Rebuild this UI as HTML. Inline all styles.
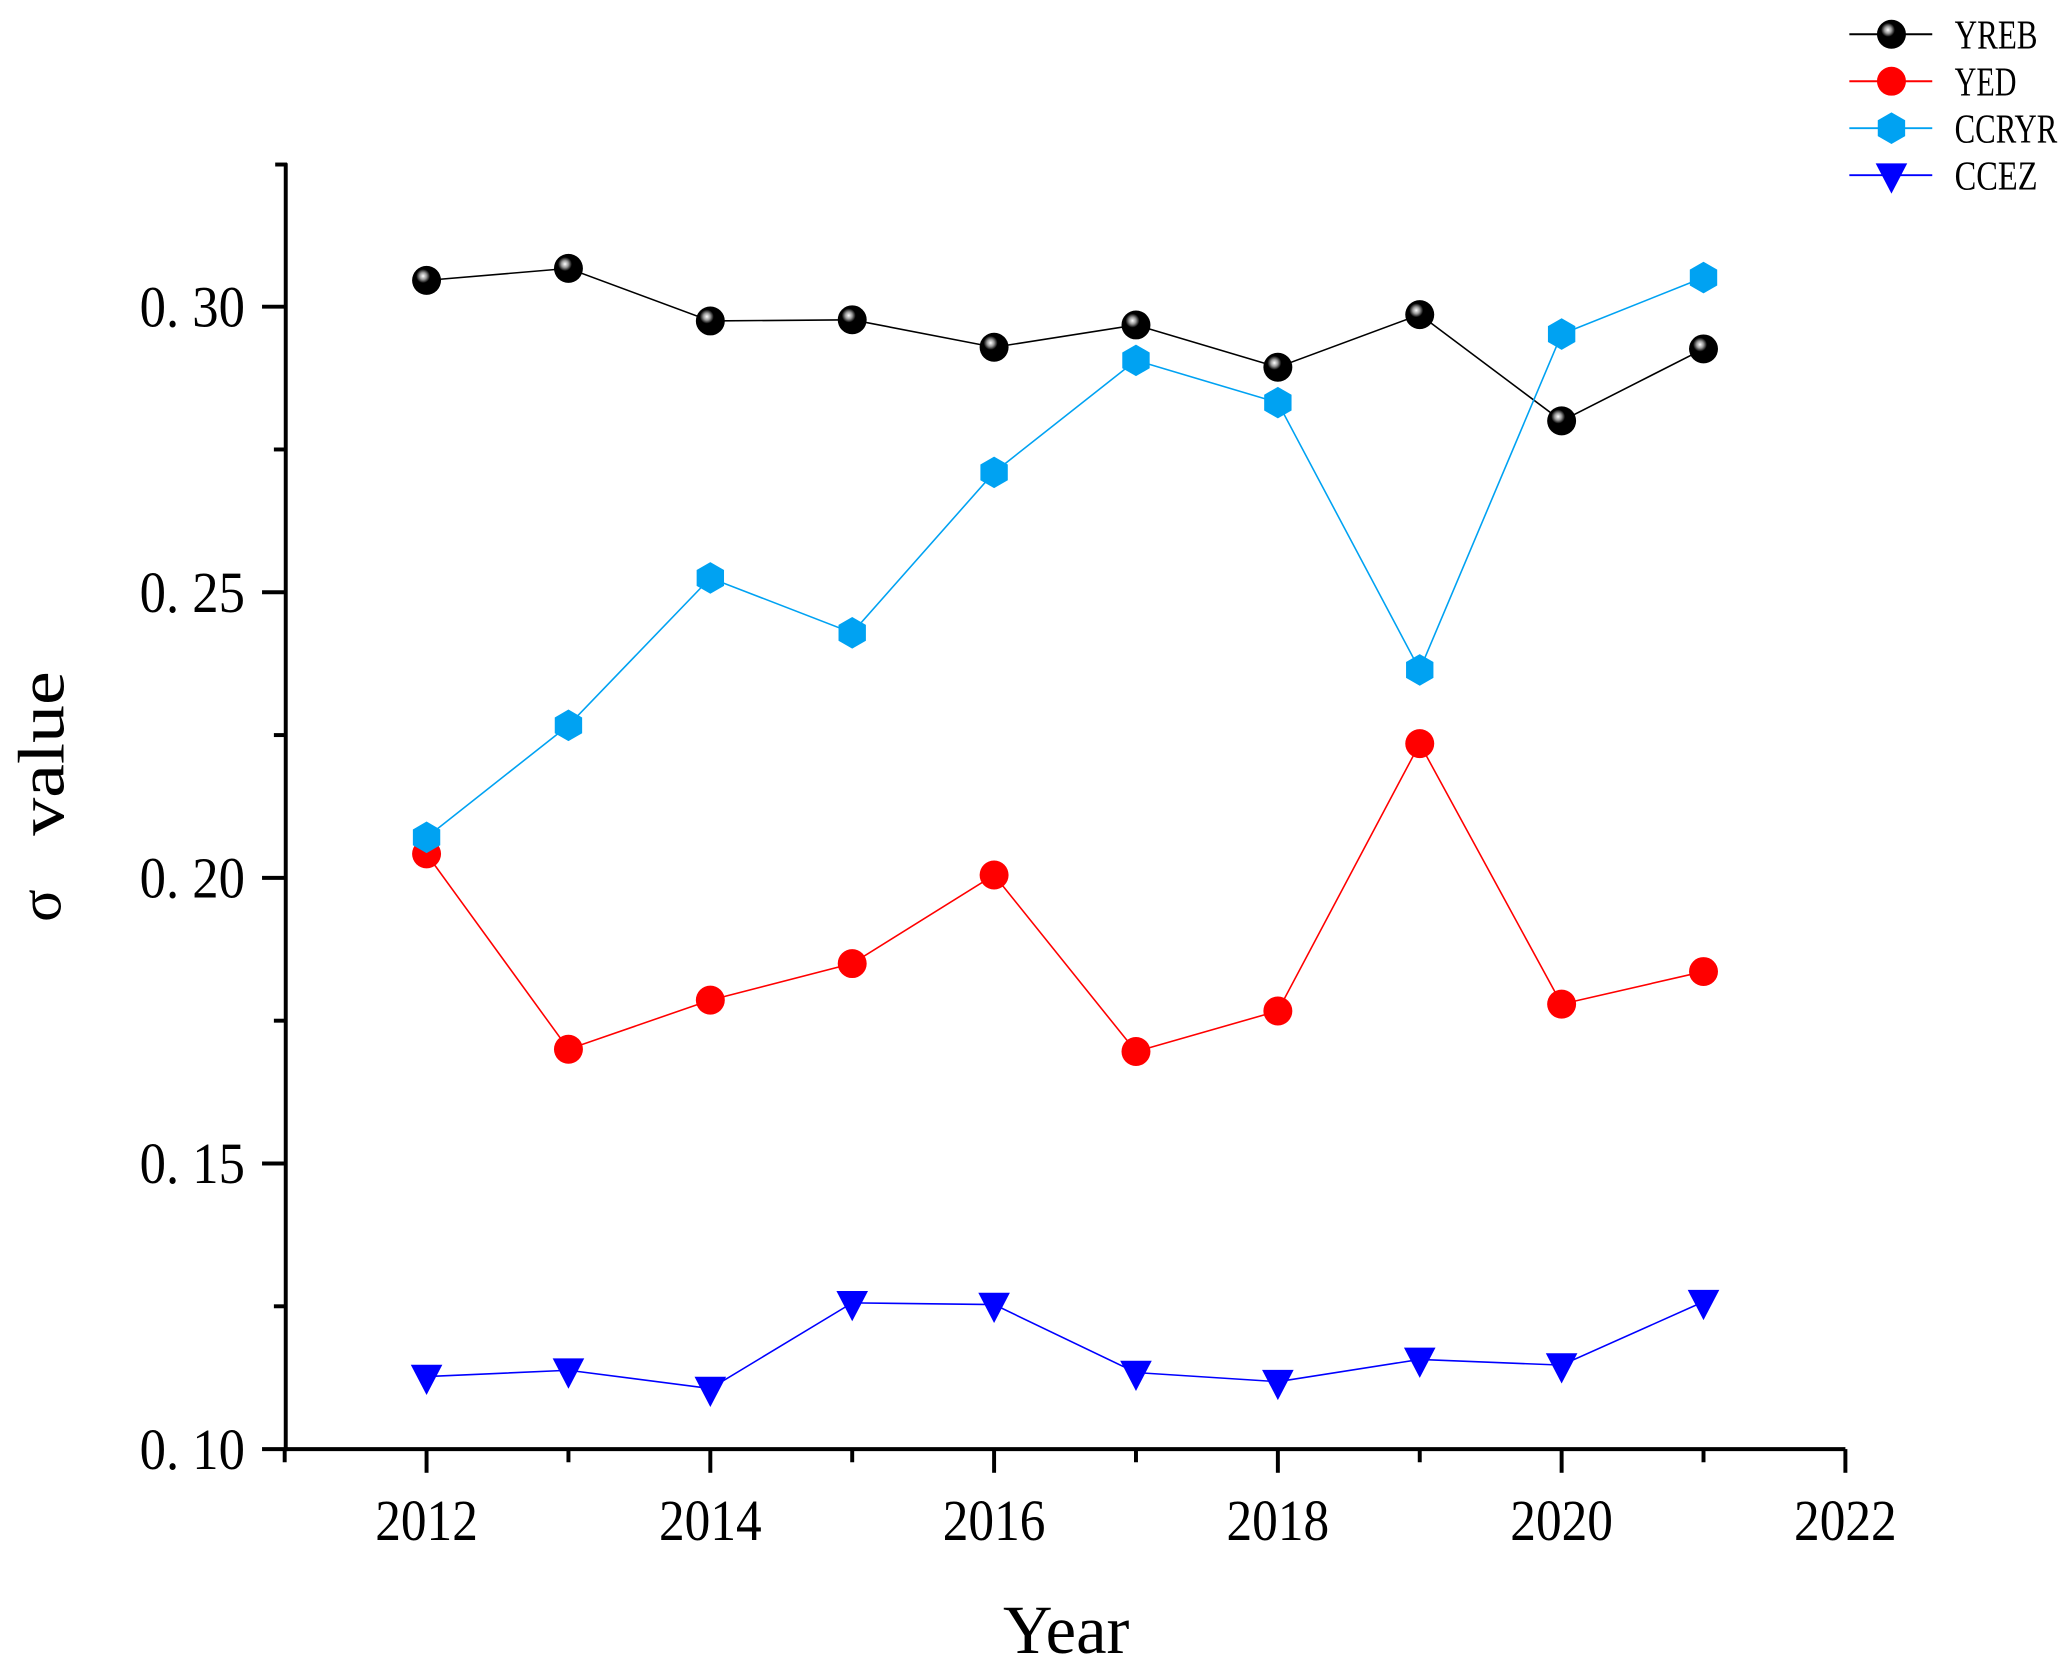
<!DOCTYPE html>
<html><head><meta charset="utf-8"><style>
html,body{margin:0;padding:0;background:#fff;}
svg{display:block;}
text{font-family:"Liberation Serif","Noto Serif CJK SC",serif;fill:#000;}
</style></head><body>
<svg id="chart" width="2064" height="1661" viewBox="0 0 1568 1262" xmlns="http://www.w3.org/2000/svg">
<defs>
<radialGradient id="ball" cx="0.38" cy="0.35" r="0.6">
<stop offset="0" stop-color="#fff"/><stop offset="0.2" stop-color="#999"/><stop offset="0.4" stop-color="#000"/><stop offset="1" stop-color="#000"/>
</radialGradient>
</defs>
<g id="axes"></g>
<g id="series"></g>
<g id="legend"></g>
</svg>
<script>
const years = [2012,2013,2014,2015,2016,2017,2018,2019,2020,2021];
const yreb = [0.3046,0.3067,0.2975,0.2977,0.2929,0.2968,0.2894,0.2986,0.2800,0.2926];
const yed = [0.2042,0.1700,0.1786,0.1850,0.2005,0.1696,0.1767,0.2235,0.1779,0.1836];
const ccryr = [0.2071,0.2267,0.2525,0.2429,0.2710,0.2906,0.2832,0.2364,0.2952,0.3051];
const ccez = [0.1127,0.1138,0.1106,0.1256,0.1253,0.1134,0.1118,0.1157,0.1147,0.1258];
const xTicks = [2012,2014,2016,2018,2020,2022];
const yTicks = [0.10,0.15,0.20,0.25,0.30];
const yTickLabels = ["0. 10","0. 15","0. 20","0. 25","0. 30"];

const NS = "http://www.w3.org/2000/svg";
const X0 = 217, XB = 1402, Y0 = 1101;
function xs(v){ return 324 + (v-2012)*(1078/10); }
function ys(v){ return Y0 - (v-0.10)*(868/0.20); }
function mk(tag, attrs, parent){ const e=document.createElementNS(NS,tag); for(const k in attrs) e.setAttribute(k,attrs[k]); parent.appendChild(e); return e; }

const axes = document.getElementById('axes');
let e;
e = mk('line',{x1:X0,y1:Y0,x2:XB,y2:Y0,stroke:'#000','stroke-width':3},axes);
 
e = mk('line',{x1:X0,y1:Y0+1.5,x2:X0,y2:124,stroke:'#000','stroke-width':3},axes);
 
mk('line',{x1:X0-8,y1:125,x2:X0+1,y2:125,stroke:'#000','stroke-width':3},axes);
for(let v=2011; v<=2022; v++){
  const major = xTicks.includes(v);
  e = mk('line',{x1:xs(v),y1:Y0,x2:xs(v),y2:Y0+(major?18:10),stroke:'#000','stroke-width':3},axes);
   
}
xTicks.forEach(v=>{
  e = mk('text',{x:xs(v)-39,y:1170,'font-size':44,textLength:78,lengthAdjust:'spacingAndGlyphs'},axes);
  e.textContent = v;
   
});
for(let i=0;i<yTicks.length;i++){
  e = mk('line',{x1:X0-18,y1:ys(yTicks[i]),x2:X0,y2:ys(yTicks[i]),stroke:'#000','stroke-width':3},axes);
   
  if(i<yTicks.length-1){
    e = mk('line',{x1:X0-9,y1:ys(yTicks[i]+0.025),x2:X0,y2:ys(yTicks[i]+0.025),stroke:'#000','stroke-width':3},axes);
     
  }
  e = mk('text',{x:106,y:ys(yTicks[i])+15,'font-size':44,textLength:80,lengthAdjust:'spacingAndGlyphs'},axes);
  e.textContent = yTickLabels[i];
   
}
e = mk('text',{x:762,y:1256,'font-size':52,textLength:96,lengthAdjust:'spacingAndGlyphs'},axes);
e.textContent='Year';
 
e = mk('text',{x:0,y:0,'font-size':50,transform:'translate(48,635) rotate(-90)',textLength:125,lengthAdjust:'spacingAndGlyphs'},axes);
e.textContent='value';
 
e = mk('text',{x:0,y:0,'font-size':46,'text-anchor':'middle',transform:'translate(46,688) rotate(-90)'},axes);
e.textContent='σ';
 

function marker(kind,x,y,parent){
  if(kind==='ball') return mk('circle',{cx:x,cy:y,r:11,fill:'url(#ball)'},parent);
  if(kind==='circle') return mk('circle',{cx:x,cy:y,r:11,fill:'#ff0000'},parent);
  if(kind==='hex'){ const r=12; const pts=[]; for(let k=0;k<6;k++){const a=Math.PI/6+k*Math.PI/3; pts.push((x+r*Math.cos(a)).toFixed(1)+','+(y+r*Math.sin(a)).toFixed(1));} return mk('polygon',{points:pts.join(' '),fill:'#00a2f2'},parent); }
  if(kind==='tri') return mk('polygon',{points:`${x-12},${y-9} ${x+12},${y-9} ${x},${y+14}`,fill:'#0000ff'},parent);
}
const seriesDefs = [
  {name:'YREB',vals:yreb,color:'#000',kind:'ball',w:63},
  {name:'YED',vals:yed,color:'#ff0000',kind:'circle',w:47},
  {name:'CCRYR',vals:ccryr,color:'#00a2f2',kind:'hex',w:78},
  {name:'CCEZ',vals:ccez,color:'#0000ff',kind:'tri',w:63}
];
const sg = document.getElementById('series');
seriesDefs.forEach(s=>{
  const g = mk('g',{},sg);
   
  const pl = mk('polyline',{points:years.map((y,i)=>xs(y)+','+ys(s.vals[i])).join(' '),fill:'none',stroke:s.color,'stroke-width':1.2},g);
   
  years.forEach((y,i)=>{
    const m = marker(s.kind,xs(y),ys(s.vals[i]),g);
     
  });
});
const lg = document.getElementById('legend');
seriesDefs.forEach((s,i)=>{
  const y = 26 + i*35.7;
  const g = mk('g',{},lg);
   
  mk('line',{x1:1405,y1:y,x2:1468,y2:y,stroke:s.color,'stroke-width':1.5},g);
  marker(s.kind,1437,y,g);
  const t = mk('text',{x:1485,y:y+11,'font-size':31,textLength:s.w,lengthAdjust:'spacingAndGlyphs'},g);
  t.textContent = s.name;
});
</script>
</body></html>
